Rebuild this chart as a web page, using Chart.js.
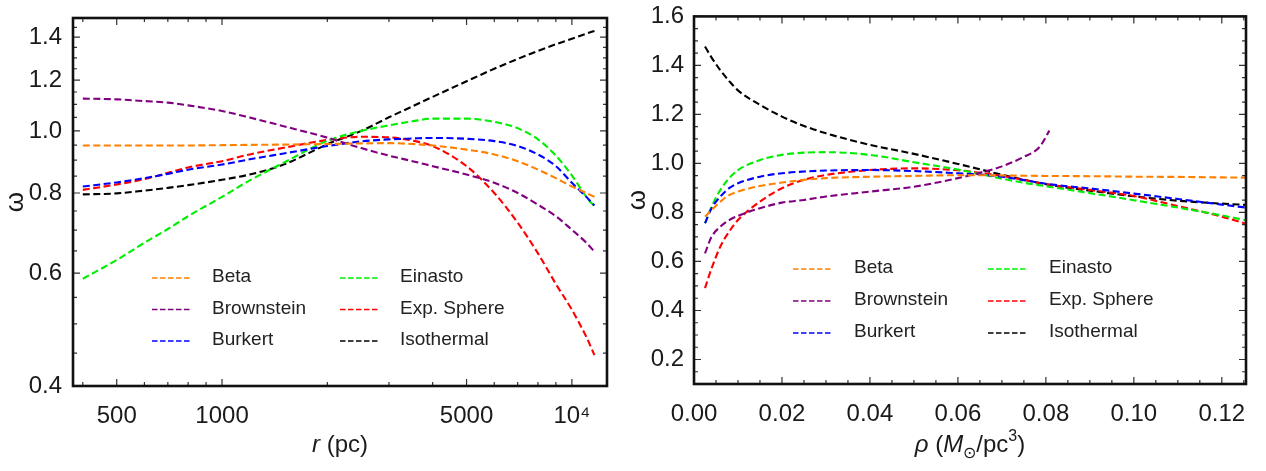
<!DOCTYPE html>
<html>
<head>
<meta charset="utf-8">
<script src="https://cdn.jsdelivr.net/npm/chart.js@4.4.1/dist/chart.umd.min.js"></script>
<style>
    html, body { margin: 0; padding: 0; background: #fff; }
    .panel { position: absolute; top: 0; }
    #leftPanel { left: 0; }
    #rightPanel { left: 630px; }
</style>
</head>
<body>
<div class="panel" id="leftPanel"><canvas id="radiusChart" width="630" height="471"></canvas></div>
<div class="panel" id="rightPanel"><canvas id="densityChart" width="636" height="471"></canvas></div>
<script>
// Halo models, same order in both panels
const modelNames = ['Beta', 'Brownstein', 'Burkert', 'Einasto', 'Exp. Sphere', 'Isothermal'];
const modelColors = ['#ff8000', '#800080', '#0000ff', '#00ee00', '#ff0000', '#000000'];

// omega vs radius (pc)
const rPc = [400, 500, 600, 700, 800, 1000, 1200, 1500, 2000, 2500, 3000, 3500, 4000, 5000, 6000, 7000, 8000, 9000, 10000, 11000, 11600];
const betaR = [0.949, 0.949, 0.949, 0.949, 0.949, 0.950, 0.951, 0.952, 0.954, 0.956, 0.957, 0.954, 0.949, 0.935, 0.919, 0.897, 0.870, 0.844, 0.819, 0.800, 0.789];
const brownR = [1.123, 1.120, 1.113, 1.107, 1.096, 1.074, 1.049, 1.017, 0.976, 0.940, 0.915, 0.897, 0.881, 0.855, 0.830, 0.800, 0.767, 0.736, 0.701, 0.669, 0.648];
const burkR = [0.819, 0.831, 0.844, 0.857, 0.870, 0.886, 0.903, 0.922, 0.947, 0.963, 0.970, 0.973, 0.975, 0.972, 0.964, 0.947, 0.919, 0.881, 0.830, 0.789, 0.765];
const einR = [0.588, 0.629, 0.669, 0.703, 0.736, 0.789, 0.837, 0.892, 0.965, 1.000, 1.020, 1.035, 1.045, 1.045, 1.033, 1.010, 0.970, 0.915, 0.852, 0.789, 0.762];
const expR = [0.809, 0.825, 0.841, 0.860, 0.877, 0.897, 0.919, 0.941, 0.968, 0.979, 0.977, 0.966, 0.947, 0.881, 0.800, 0.719, 0.644, 0.577, 0.526, 0.477, 0.447];
const isoR = [0.796, 0.799, 0.807, 0.815, 0.823, 0.839, 0.855, 0.886, 0.953, 1.000, 1.050, 1.092, 1.130, 1.195, 1.250, 1.295, 1.333, 1.365, 1.392, 1.418, 1.432];

// omega vs density (Msun/pc^3)
const rho = [0.0025, 0.004, 0.006, 0.008, 0.01, 0.015, 0.02, 0.025, 0.03, 0.04, 0.05, 0.06, 0.065, 0.07, 0.075, 0.08, 0.09, 0.10, 0.11, 0.12, 0.1255];
const betaRho = [0.783, 0.810, 0.844, 0.871, 0.885, 0.908, 0.922, 0.933, 0.940, 0.946, 0.949, 0.952, 0.952, 0.951, 0.950, 0.949, 0.948, 0.946, 0.945, 0.943, 0.942];
const burkRho = [0.756, 0.817, 0.865, 0.899, 0.919, 0.946, 0.960, 0.967, 0.971, 0.973, 0.969, 0.960, 0.955, 0.946, 0.932, 0.917, 0.898, 0.877, 0.855, 0.832, 0.820];
const einRho = [0.756, 0.824, 0.892, 0.940, 0.973, 1.014, 1.035, 1.044, 1.046, 1.035, 1.005, 0.975, 0.957, 0.938, 0.921, 0.907, 0.879, 0.850, 0.820, 0.788, 0.768];
const expRho = [0.491, 0.572, 0.661, 0.722, 0.769, 0.844, 0.899, 0.933, 0.953, 0.973, 0.980, 0.972, 0.962, 0.949, 0.933, 0.916, 0.892, 0.867, 0.826, 0.783, 0.754];
const isoRho = [1.477, 1.432, 1.380, 1.336, 1.298, 1.239, 1.191, 1.153, 1.123, 1.076, 1.039, 0.998, 0.976, 0.954, 0.934, 0.915, 0.889, 0.866, 0.848, 0.836, 0.831];
// Brownstein stops early on the density axis
const rhoBrown = [0.0025, 0.004, 0.006, 0.008, 0.01, 0.015, 0.02, 0.025, 0.03, 0.04, 0.05, 0.06, 0.065, 0.07, 0.075, 0.0785, 0.0808];
const brownRho = [0.633, 0.701, 0.742, 0.769, 0.786, 0.817, 0.840, 0.851, 0.865, 0.885, 0.905, 0.940, 0.962, 0.988, 1.027, 1.066, 1.134];

// tick positions and labels
const rTicks = [400, 500, 600, 700, 800, 900, 1000, 2000, 3000, 4000, 5000, 6000, 7000, 8000, 9000, 10000];
const rLabelVals = [500, 1000, 5000, 10000];
const rLabelText = ['500', '1000', '5000', '10⁴'];
const omegaLogTicks = [];
for (let k = 8; k <= 30; k++) omegaLogTicks.push(k * 5 / 100);
const omegaLogLabelVals = [0.4, 0.6, 0.8, 1.0, 1.2, 1.4];
const rhoTicks = [];
for (let k = 0; k <= 25; k++) rhoTicks.push(k * 5 / 1000);
const rhoLabelVals = [0, 0.02, 0.04, 0.06, 0.08, 0.10, 0.12];
const omegaTicks = [];
for (let k = 2; k <= 32; k++) omegaTicks.push(k * 5 / 100);
const omegaLabelVals = [0.2, 0.4, 0.6, 0.8, 1.0, 1.2, 1.4, 1.6];

const FONT = '"Liberation Sans", Arial, sans-serif';
Chart.defaults.font.family = FONT;
Chart.defaults.color = '#1a1a1a';

function tickText(v, vals, texts) {
    const i = vals.findIndex(u => Math.abs(u - v) < 1e-6 * Math.max(1, Math.abs(u)));
    if (i < 0) return '';
    return texts[i];
}

function makeDatasets(xs, series) {
    return series.map((ys, i) => ({
        label: modelNames[i],
        data: (Array.isArray(xs[0]) ? xs[i] : xs).map((x, j) => ({ x: x, y: ys[j] })),
        borderColor: modelColors[i],
        borderWidth: 2.1,
        borderDash: [7, 3.5],
        pointRadius: 0,
        fill: false,
        cubicInterpolationMode: 'monotone'
    }));
}

// Inward ticks on all four sides plus the heavy frame
const frameTicks = {
    id: 'frameTicks',
    afterDraw(chart) {
        const { ctx, chartArea: a, scales } = chart;
        ctx.save();
        ctx.strokeStyle = '#333';
        ctx.lineWidth = 1.2;
        scales.x.ticks.forEach(t => {
            const px = scales.x.getPixelForValue(t.value);
            const len = t.label ? 7 : 4;
            ctx.beginPath();
            ctx.moveTo(px, a.bottom); ctx.lineTo(px, a.bottom - len);
            ctx.moveTo(px, a.top); ctx.lineTo(px, a.top + len);
            ctx.stroke();
        });
        scales.y.ticks.forEach(t => {
            const py = scales.y.getPixelForValue(t.value);
            const len = t.label ? 7 : 4;
            ctx.beginPath();
            ctx.moveTo(a.left, py); ctx.lineTo(a.left + len, py);
            ctx.moveTo(a.right, py); ctx.lineTo(a.right - len, py);
            ctx.stroke();
        });
        ctx.strokeStyle = '#111';
        ctx.lineWidth = 2.6;
        ctx.strokeRect(a.left, a.top, a.right - a.left, a.bottom - a.top);
        ctx.restore();
    }
};

// Two-column legend inside the plot
const insetLegend = {
    id: 'insetLegend',
    afterDraw(chart, args, opts) {
        const ctx = chart.ctx;
        ctx.save();
        ctx.font = '19px ' + FONT;
        ctx.textBaseline = 'middle';
        chart.data.datasets.forEach((ds, i) => {
            const x = opts.cols[Math.floor(i / 3)];
            const y = opts.rows[i % 3];
            ctx.strokeStyle = ds.borderColor;
            ctx.lineWidth = 1.6;
            ctx.setLineDash([5.5, 2.5]);
            ctx.beginPath();
            ctx.moveTo(x, y);
            ctx.lineTo(x + 40, y);
            ctx.stroke();
            ctx.setLineDash([]);
            ctx.fillStyle = '#222';
            ctx.fillText(ds.label, x + opts.gap, y - 1);
        });
        ctx.restore();
    }
};

// Axis titles with italic symbols, sub- and superscripts
const axisTitles = {
    id: 'axisTitles',
    afterDraw(chart, args, opts) {
        const { ctx, chartArea: a } = chart;
        ctx.save();
        ctx.fillStyle = '#1a1a1a';
        ctx.font = '26px ' + FONT;
        ctx.textAlign = 'center';
        ctx.textBaseline = 'alphabetic';
        ctx.translate(opts.yBaseX, (a.top + a.bottom) / 2);
        ctx.rotate(-Math.PI / 2);
        ctx.fillText(opts.yTitle, 0, 0);
        ctx.restore();

        ctx.save();
        ctx.fillStyle = '#1a1a1a';
        ctx.textAlign = 'left';
        ctx.textBaseline = 'alphabetic';
        const runFont = r => (r.italic ? 'italic ' : '') + (r.sub || r.sup ? '16px ' : '24px ') + FONT;
        let total = 0;
        opts.xRuns.forEach(r => { ctx.font = runFont(r); total += ctx.measureText(r.t).width; });
        let x = (a.left + a.right) / 2 - total / 2;
        opts.xRuns.forEach(r => {
            ctx.font = runFont(r);
            const dy = r.sub ? 6 : (r.sup ? -11 : 0);
            ctx.fillText(r.t, x, opts.xBaseY + dy);
            x += ctx.measureText(r.t).width;
        });
        ctx.restore();
    }
};

function axis(extra) {
    return Object.assign({
        grid: { display: false },
        border: { display: false }
    }, extra);
}

new Chart(document.getElementById('radiusChart').getContext('2d'), {
    type: 'line',
    data: { datasets: makeDatasets(rPc, [betaR, brownR, burkR, einR, expR, isoR]) },
    options: {
        responsive: false,
        animation: false,
        devicePixelRatio: 1,
        layout: { padding: { left: 0, top: 18, right: 23, bottom: 0 } },
        plugins: {
            legend: { display: false },
            tooltip: { enabled: false },
            insetLegend: { cols: [152, 340], rows: [278, 309.5, 341], gap: 60 },
            axisTitles: {
                yTitle: 'ω', yBaseX: 23, xBaseY: 452,
                xRuns: [{ t: 'r', italic: true }, { t: ' (pc)' }]
            }
        },
        scales: {
            x: axis({
                type: 'logarithmic', min: 375, max: 12600,
                afterBuildTicks: s => { s.ticks = rTicks.map(v => ({ value: v })); },
                afterFit: s => { s.height = 85; },
                ticks: {
                    autoSkip: false, maxRotation: 0, padding: 8, font: { size: 24 },
                    callback: v => tickText(v, rLabelVals, rLabelText)
                }
            }),
            y: axis({
                type: 'logarithmic', min: 0.4, max: 1.5,
                afterBuildTicks: s => { s.ticks = omegaLogTicks.map(v => ({ value: v })); },
                afterFit: s => { s.width = 73; },
                ticks: {
                    autoSkip: false, padding: 3, font: { size: 24 },
                    callback: v => tickText(v, omegaLogLabelVals, omegaLogLabelVals.map(u => u.toFixed(1)))
                }
            })
        }
    },
    plugins: [frameTicks, insetLegend, axisTitles]
});

new Chart(document.getElementById('densityChart').getContext('2d'), {
    type: 'line',
    data: {
        datasets: makeDatasets([rho, rhoBrown, rho, rho, rho, rho],
            [betaRho, brownRho, burkRho, einRho, expRho, isoRho])
    },
    options: {
        responsive: false,
        animation: false,
        devicePixelRatio: 1,
        layout: { padding: { left: 0, top: 16, right: 20, bottom: 0 } },
        plugins: {
            legend: { display: false },
            tooltip: { enabled: false },
            insetLegend: { cols: [163, 358], rows: [269, 301, 333], gap: 61 },
            axisTitles: {
                yTitle: 'ω', yBaseX: 15, xBaseY: 452,
                xRuns: [
                    { t: 'ρ', italic: true }, { t: ' (' }, { t: 'M', italic: true },
                    { t: '⊙', sub: true }, { t: '/pc' }, { t: '3', sup: true }, { t: ')' }
                ]
            }
        },
        scales: {
            x: axis({
                type: 'linear', min: 0, max: 0.1255,
                afterBuildTicks: s => { s.ticks = rhoTicks.map(v => ({ value: v })); },
                afterFit: s => { s.height = 87; },
                ticks: {
                    autoSkip: false, maxRotation: 0, padding: 8, font: { size: 24 },
                    callback: v => tickText(v, rhoLabelVals, rhoLabelVals.map(u => u.toFixed(2)))
                }
            }),
            y: axis({
                type: 'linear', min: 0.1, max: 1.6,
                afterBuildTicks: s => { s.ticks = omegaTicks.map(v => ({ value: v })); },
                afterFit: s => { s.width = 64; },
                ticks: {
                    autoSkip: false, padding: 2, font: { size: 24 },
                    callback: v => tickText(v, omegaLabelVals, omegaLabelVals.map(u => u.toFixed(1)))
                }
            })
        }
    },
    plugins: [frameTicks, insetLegend, axisTitles]
});
</script>
</body>
</html>
